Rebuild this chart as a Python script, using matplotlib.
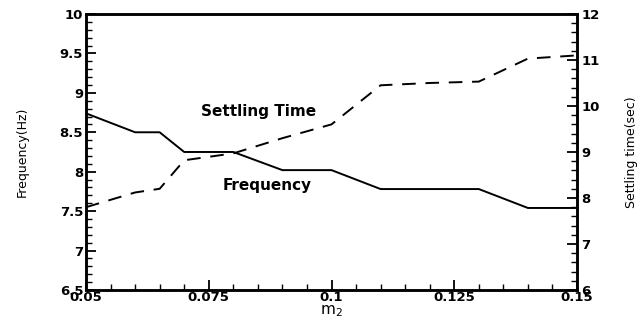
import matplotlib
matplotlib.use("Agg")
import matplotlib.pyplot as plt
from matplotlib.ticker import MultipleLocator, FixedFormatter, FixedLocator

# data
m2 = [0.05, 0.06, 0.065, 0.07, 0.08, 0.09, 0.1, 0.11, 0.12, 0.13, 0.14, 0.15]
frequency = [8.74, 8.5, 8.5, 8.25, 8.25, 8.02, 8.02, 7.78, 7.78, 7.78, 7.54, 7.54]
settling_time = [7.8, 8.12, 8.2, 8.82, 8.97, 9.3, 9.6, 10.45, 10.5, 10.53, 11.03, 11.1]

x_ticks = [0.05, 0.075, 0.1, 0.125, 0.15]
x_labels = ["0.05", "0.075", "0.1", "0.125", "0.15"]
left_ticks = [6.5, 7, 7.5, 8, 8.5, 9, 9.5, 10]
left_labels = ["6.5", "7", "7.5", "8", "8.5", "9", "9.5", "10"]
right_ticks = [6, 7, 8, 9, 10, 11, 12]
right_labels = ["6", "7", "8", "9", "10", "11", "12"]

plt.rcParams["font.family"] = ["DejaVu Sans"]

fig = plt.figure(figsize=(6.38, 3.23), dpi=100)
ax = fig.add_axes([0.1348, 0.1022, 0.7696, 0.8545])
ax2 = ax.twinx()

ax.plot(m2, frequency, color="black", lw=1.4)
ax2.plot(m2, settling_time, color="black", lw=1.4, dashes=(7, 5))

ax.set_xlim(0.05, 0.15)
ax.set_ylim(6.5, 10)
ax2.set_ylim(6, 12)

ax.xaxis.set_major_locator(FixedLocator(x_ticks))
ax.xaxis.set_major_formatter(FixedFormatter(x_labels))
ax.xaxis.set_minor_locator(MultipleLocator(0.005))
ax.yaxis.set_major_locator(FixedLocator(left_ticks))
ax.yaxis.set_major_formatter(FixedFormatter(left_labels))
ax.yaxis.set_minor_locator(MultipleLocator(0.1))
ax2.yaxis.set_major_locator(FixedLocator(right_ticks))
ax2.yaxis.set_major_formatter(FixedFormatter(right_labels))
ax2.yaxis.set_minor_locator(MultipleLocator(0.2))

ax.tick_params(axis="both", which="major", direction="in", length=7, width=1.3, pad=2)
ax.tick_params(axis="both", which="minor", direction="in", length=4, width=1.0)
ax.tick_params(axis="x", pad=1)
ax2.tick_params(axis="y", which="major", direction="in", length=7, width=1.3, pad=3)
ax2.tick_params(axis="y", which="minor", direction="in", length=4, width=1.0)
for lab in ax.get_xticklabels() + ax.get_yticklabels() + ax2.get_yticklabels():
    lab.set_fontsize(9.5)
    lab.set_fontweight("bold")

for a in (ax, ax2):
    for s in a.spines.values():
        s.set_linewidth(1.8)

ax.set_xlabel("m$_2$", fontsize=11, labelpad=-1)
ax.set_ylabel("Frequency(Hz)", fontsize=9, labelpad=22)
ax2.set_ylabel("Settling time(sec)", fontsize=9, labelpad=18, rotation=90)

ax.text(0.352, 0.645, "Settling Time", transform=ax.transAxes, ha="center", va="center",
        fontsize=11, fontweight="bold")
ax.text(0.369, 0.38, "Frequency", transform=ax.transAxes, ha="center", va="center",
        fontsize=11, fontweight="bold")

fig.savefig("out.png", dpi=100)
